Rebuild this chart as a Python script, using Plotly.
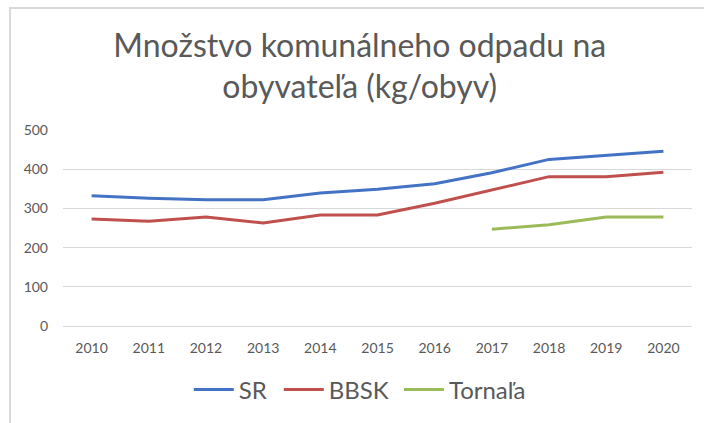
import plotly.graph_objects as go

years = ["2010", "2011", "2012", "2013", "2014", "2015", "2016", "2017", "2018", "2019", "2020"]
sr = [332, 326, 322, 322, 339, 349, 363, 391, 425, 436, 446]
bbsk = [273, 267, 278, 263, 283, 283, 313, 347, 381, 381, 392]
tornala = [None, None, None, None, None, None, None, 247, 258, 278, 278]

series = [("SR", sr, "#4472C4", "legend"),
          ("BBSK", bbsk, "#C0504D", "legend2"),
          ("Tornaľa", tornala, "#9BBB59", "legend3")]

fig = go.Figure()
for name, vals, color, leg in series:
    fig.add_trace(go.Scatter(x=years, y=vals, name=name, mode="lines", legend=leg,
                             showlegend=True,
                             line=dict(color=color, width=3), connectgaps=False))

gray = "#595959"


def legend_at(x):
    return dict(orientation="h", x=x, xanchor="left", y=-0.205, yanchor="top",
                font=dict(size=24, color=gray), itemwidth=40, bgcolor="rgba(0,0,0,0)",
                visible=True)


fig.update_layout(
    width=704, height=423,
    showlegend=True,
    margin=dict(l=63, r=12, t=130, b=96),
    paper_bgcolor="white", plot_bgcolor="white",
    font=dict(family="Lato, Open Sans, sans-serif", color=gray),
    title=dict(text="Množstvo komunálneho odpadu na<br>obyvateľa (kg/obyv)",
               x=0.511, xanchor="center", y=0.866, yanchor="top",
               font=dict(size=32, color=gray)),
    xaxis=dict(type="category", range=[-0.5, 10.5], showgrid=False, showline=False,
               ticks="", tickfont=dict(size=14, color=gray), ticklabelstandoff=12),
    yaxis=dict(range=[0, 500], dtick=100, showgrid=True, gridcolor="#D9D9D9", gridwidth=1,
               zeroline=True, zerolinecolor="#D9D9D9", zerolinewidth=1,
               showline=False, ticks="", tickfont=dict(size=14, color=gray), ticklabelstandoff=14),
    legend=legend_at(0.200),
    legend2=legend_at(0.343),
    legend3=legend_at(0.534),
    shapes=[dict(type="rect", xref="paper", yref="paper", x0=-0.0843, x1=1.2, y0=-1.0, y1=1.623,
                 line=dict(color="#D9D9D9", width=2))],
)

fig.write_html("out.html")
